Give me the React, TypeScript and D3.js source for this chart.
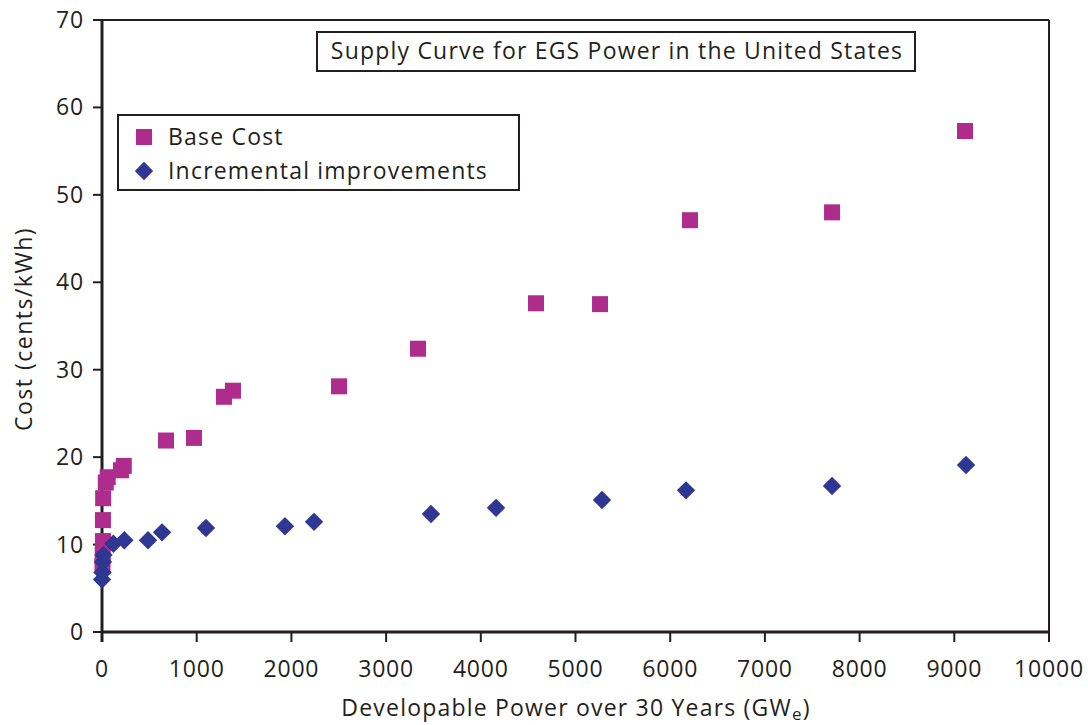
import React from "react";
import * as d3 from "d3";

const xTicks = [0, 1000, 2000, 3000, 4000, 5000, 6000, 7000, 8000, 9000, 10000];
const yTicks = [0, 10, 20, 30, 40, 50, 60, 70];

const baseX = [5, 8, 10, 10, 12, 40, 60, 200, 230, 676, 971, 1288, 1383, 2503, 3337, 4583, 5259, 6209, 7709, 9113];
const baseY = [7.6, 8.8, 10.4, 12.8, 15.3, 17.1, 17.7, 18.5, 19.0, 21.9, 22.2, 26.9, 27.6, 28.1, 32.4, 37.6, 37.5, 47.1, 48.0, 57.3];

const incX = [0, 5, 10, 15, 120, 236, 486, 634, 1098, 1932, 2239, 3474, 4161, 5280, 6167, 7709, 9124];
const incY = [6.0, 6.8, 8.0, 8.8, 10.1, 10.5, 10.5, 11.4, 11.9, 12.1, 12.6, 13.5, 14.2, 15.1, 16.2, 16.7, 19.1];

const title = "Supply Curve for EGS Power in the United States";
const seriesNames = ["Base Cost", "Incremental improvements"];

const MAGENTA = "#AE2D8C";
const NAVY = "#2E3793";
const INK = "#231F20";
const FONT = "'Open Sans', Roboto, sans-serif";
const LS = 1.2;

export default function App() {
  const x = d3.scaleLinear().domain([0, 10000]).range([102, 1049]);
  const y = d3.scaleLinear().domain([0, 70]).range([632, 20]);
  const sq = 16;
  const diamond = d3.symbol(d3.symbolSquare, 13 * 13)();

  return (
    <svg width={1088} height={725} style={{ position: "absolute", left: 0, top: 0, background: "#fff" }}>
      <rect x={0} y={0} width={1088} height={725} fill="#fff" />
      {/* frame */}
      <line x1={x(0)} x2={x(10000)} y1={y(70)} y2={y(70)} stroke={INK} strokeWidth={2} />
      <line x1={x(10000)} x2={x(10000)} y1={y(70)} y2={y(0)} stroke={INK} strokeWidth={2} />
      {/* y ticks */}
      {yTicks.map((t) => (
        <g key={"y" + t}>
          <line x1={x(0) - 9} x2={x(0)} y1={y(t)} y2={y(t)} stroke={INK} strokeWidth={2} />
          <text x={84} y={y(t) + 8} textAnchor="end" fontFamily={FONT} fontSize={23} letterSpacing={0.8} fill={INK}>
            {t}
          </text>
        </g>
      ))}
      {/* x ticks */}
      {xTicks.map((t) => (
        <g key={"x" + t}>
          <line x1={x(t)} x2={x(t)} y1={y(0)} y2={y(0) + 10} stroke={INK} strokeWidth={2} />
          <text x={x(t)} y={677} textAnchor="middle" fontFamily={FONT} fontSize={23} letterSpacing={0.8} fill={INK}>
            {t}
          </text>
        </g>
      ))}
      <line x1={x(0)} x2={x(10000)} y1={y(0)} y2={y(0)} stroke={INK} strokeWidth={3} />
      <line x1={x(0)} x2={x(0)} y1={y(70) - 1} y2={y(0) + 10} stroke={INK} strokeWidth={3} />

      {/* base cost squares */}
      {baseX.map((v, i) => (
        <rect key={"b" + i} x={x(v) - sq / 2} y={y(baseY[i]) - sq / 2} width={sq} height={sq} fill={MAGENTA} />
      ))}
      {/* incremental diamonds */}
      {incX.map((v, i) => (
        <path key={"d" + i} d={diamond as string} transform={`translate(${x(v)},${y(incY[i])}) rotate(45)`} fill={NAVY} />
      ))}

      {/* title box */}
      <rect x={317} y={32} width={598} height={39} fill="#fff" stroke={INK} strokeWidth={2} />
      <text x={617} y={59} textAnchor="middle" fontFamily={FONT} fontSize={23} letterSpacing={LS} fill={INK}>
        {title}
      </text>

      {/* legend */}
      <rect x={118} y={115} width={401} height={75} fill="#fff" stroke={INK} strokeWidth={2} />
      <rect x={136} y={129} width={16} height={16} fill={MAGENTA} />
      <text x={168} y={145} fontFamily={FONT} fontSize={23} letterSpacing={LS} fill={INK}>
        {seriesNames[0]}
      </text>
      <path d={diamond as string} transform="translate(144,171) rotate(45)" fill={NAVY} />
      <text x={168} y={179} fontFamily={FONT} fontSize={23} letterSpacing={LS} fill={INK}>
        {seriesNames[1]}
      </text>

      {/* axis titles */}
      <text x={576} y={716} textAnchor="middle" fontFamily={FONT} fontSize={23} letterSpacing={LS} fill={INK}>
        Developable Power over 30 Years (GW
        <tspan fontSize={17} dy={4}>e</tspan>
        <tspan dy={-4}>)</tspan>
      </text>
      <text transform="translate(32,329) rotate(-90)" textAnchor="middle" fontFamily={FONT} fontSize={23} letterSpacing={1.5} fill={INK}>
        Cost (cents/kWh)
      </text>
    </svg>
  );
}
